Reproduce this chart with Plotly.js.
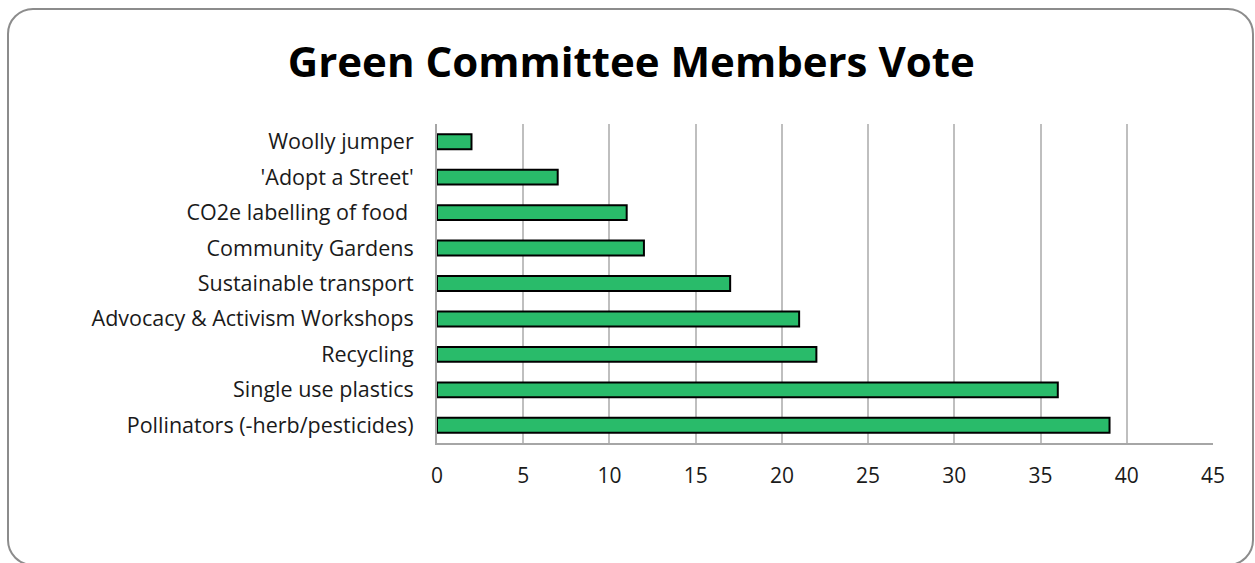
<!DOCTYPE html>
<html>
<head>
<meta charset="utf-8">
<script src="https://cdn.plot.ly/plotly-3.0.1.min.js"></script>
<style>
html,body{margin:0;padding:0;background:#fff;overflow:hidden;}
#wrap{position:relative;width:1255px;height:563px;}
#chart{position:absolute;left:0;top:0;width:1255px;height:563px;}
#frame{position:absolute;left:7px;top:8px;width:1247px;height:558px;border:2px solid #8c8c8c;border-radius:26px;pointer-events:none;box-sizing:border-box;}
</style>
</head>
<body>
<div id="wrap"><div id="chart"></div><div id="frame"></div></div>
<script>
const categories = [
  "Woolly jumper",
  "'Adopt a Street'",
  "CO2e labelling of food ",
  "Community Gardens",
  "Sustainable transport",
  "Advocacy & Activism Workshops",
  "Recycling",
  "Single use plastics",
  "Pollinators (-herb/pesticides)"
];
const votes = [2, 7, 11, 12, 17, 21, 22, 36, 39];
const xTicks = [0, 5, 10, 15, 20, 25, 30, 35, 40, 45];

const trace = {
  type: 'bar',
  orientation: 'h',
  y: categories,
  x: votes,
  marker: {color: '#29BB6A', line: {color: '#000000', width: 2}},
  hoverinfo: 'x+y'
};

const layout = {
  width: 1255,
  height: 563,
  margin: {l: 437, r: 42, t: 124, b: 120},
  paper_bgcolor: '#ffffff',
  plot_bgcolor: '#ffffff',
  showlegend: false,
  bargap: 0.58,
  title: {
    text: '<b>Green Committee Members Vote</b>',
    font: {family: 'Open Sans, sans-serif', size: 42, color: '#000000'},
    x: 0.503, xanchor: 'center', y: 0.89, yanchor: 'middle'
  },
  xaxis: {
    range: [0, 45],
    tickvals: xTicks,
    ticktext: xTicks.map(String),
    showgrid: true,
    gridcolor: '#BFBFBF',
    gridwidth: 2,
    zeroline: false,
    showline: true,
    linecolor: '#A6A6A6',
    linewidth: 2,
    mirror: false,
    ticks: '',
    ticklabelstandoff: 13,
    tickfont: {family: 'Open Sans, sans-serif', size: 21, color: '#1a1a1a'},
    fixedrange: true
  },
  yaxis: {
    categoryorder: 'array',
    categoryarray: categories,
    autorange: 'reversed',
    showgrid: false,
    zeroline: false,
    showline: true,
    linecolor: '#A6A6A6',
    linewidth: 2,
    ticks: '',
    ticklabelstandoff: 17,
    tickfont: {family: 'Open Sans, sans-serif', size: 21.5, color: '#1a1a1a'},
    fixedrange: true
  }
};

Plotly.newPlot('chart', [trace], layout, {displayModeBar: false, staticPlot: true});
</script>
</body>
</html>
